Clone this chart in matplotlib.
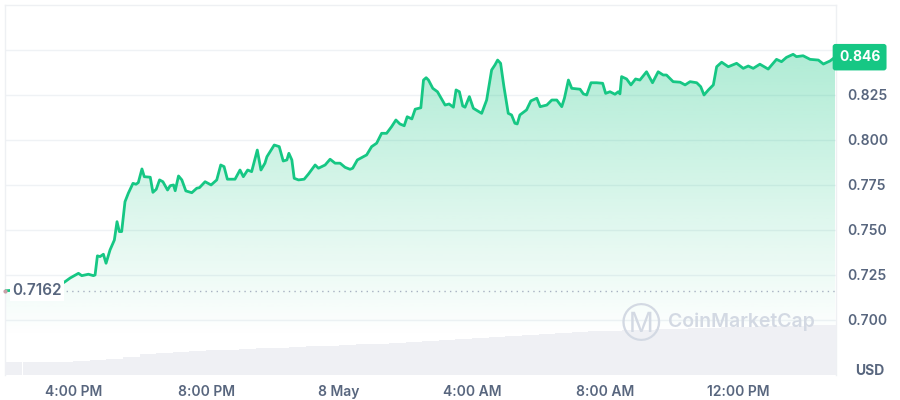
import matplotlib
matplotlib.use('Agg')
import matplotlib.pyplot as plt
import matplotlib.transforms as mtransforms
import numpy as np

# price readings, hours counted from 00:00 on 7 May
hours = [13.95, 14.86, 15.70, 15.76, 15.91, 16.16, 16.26, 16.46, 16.61, 16.66,
         16.73, 16.81, 16.91, 16.99, 17.11, 17.24, 17.32, 17.39, 17.46, 17.56,
         17.66, 17.80, 17.89, 17.96, 18.07, 18.14, 18.32, 18.40, 18.50, 18.60,
         18.70, 18.84, 18.92, 19.02, 19.07, 19.17, 19.27, 19.39, 19.57, 19.72,
         19.80, 19.97, 20.15, 20.32, 20.44, 20.54, 20.64, 20.87, 21.02, 21.12,
         21.25, 21.37, 21.54, 21.65, 21.77, 21.83, 22.05, 22.20, 22.32, 22.43,
         22.49, 22.58, 22.65, 22.78, 22.95, 23.08, 23.28, 23.38, 23.58, 23.73,
         23.88, 24.03, 24.18, 24.33, 24.41, 24.55, 24.73, 24.83, 24.98, 25.13,
         25.28, 25.43, 25.58, 25.71, 25.83, 25.96, 26.05, 26.19, 26.29, 26.46,
         26.54, 26.62, 26.69, 26.82, 26.96, 27.19, 27.31, 27.44, 27.52, 27.62,
         27.72, 27.79, 27.92, 28.04, 28.29, 28.44, 28.59, 28.69, 28.77, 28.86,
         28.96, 29.09, 29.19, 29.29, 29.36, 29.44, 29.64, 29.77, 29.95, 30.05,
         30.25, 30.40, 30.55, 30.70, 30.78, 30.90, 31.00, 31.25, 31.35, 31.45,
         31.58, 31.75, 31.93, 32.02, 32.15, 32.30, 32.40, 32.45, 32.50, 32.65,
         32.78, 32.92, 33.05, 33.25, 33.43, 33.60, 33.75, 33.85, 34.05, 34.26,
         34.41, 34.56, 34.76, 34.88, 34.98, 35.11, 35.26, 35.36, 35.51, 35.71,
         35.96, 36.16, 36.31, 36.46, 36.66, 36.91, 37.16, 37.31, 37.46, 37.66,
         37.76, 37.96, 38.17, 38.42, 38.57, 38.77, 38.92]
price = [0.7162, 0.7172, 0.7206, 0.7213, 0.7233, 0.7259, 0.7246, 0.7254, 0.7246, 0.7250,
         0.7356, 0.7352, 0.7365, 0.7315, 0.7389, 0.7444, 0.7546, 0.7491, 0.7491, 0.7657,
         0.7704, 0.7759, 0.7754, 0.7763, 0.7839, 0.7796, 0.7793, 0.7709, 0.7726, 0.7778,
         0.7768, 0.7722, 0.7746, 0.7750, 0.7718, 0.7800, 0.7778, 0.7717, 0.7707, 0.7732,
         0.7735, 0.7768, 0.7750, 0.7778, 0.7861, 0.7852, 0.7782, 0.7782, 0.7833, 0.7796,
         0.7833, 0.7824, 0.7944, 0.7833, 0.7871, 0.7907, 0.7972, 0.7963, 0.7883, 0.7889,
         0.7926, 0.7889, 0.7787, 0.7778, 0.7782, 0.7811, 0.7861, 0.7843, 0.7861, 0.7893,
         0.7871, 0.7871, 0.7848, 0.7837, 0.7843, 0.7889, 0.7907, 0.7917, 0.7963, 0.7982,
         0.8037, 0.8037, 0.8074, 0.8111, 0.8089, 0.8079, 0.8129, 0.8117, 0.8171, 0.8179,
         0.8333, 0.8346, 0.8333, 0.8287, 0.8268, 0.8194, 0.8200, 0.8182, 0.8278, 0.8268,
         0.8189, 0.8182, 0.8241, 0.8176, 0.8148, 0.8222, 0.8389, 0.8417, 0.8444, 0.8426,
         0.8296, 0.8148, 0.8139, 0.8093, 0.8089, 0.8139, 0.8167, 0.8217, 0.8232, 0.8185,
         0.8194, 0.8222, 0.8222, 0.8185, 0.8232, 0.8333, 0.8287, 0.8282, 0.8256, 0.8250,
         0.8318, 0.8318, 0.8315, 0.8259, 0.8268, 0.8254, 0.8268, 0.8256, 0.8352, 0.8339,
         0.8306, 0.8339, 0.8333, 0.8379, 0.8318, 0.8379, 0.8361, 0.8361, 0.8324, 0.8321,
         0.8306, 0.8324, 0.8318, 0.8296, 0.8250, 0.8278, 0.8306, 0.8407, 0.8432, 0.8407,
         0.8426, 0.8398, 0.8411, 0.8398, 0.8421, 0.8394, 0.8448, 0.8435, 0.8459, 0.8476,
         0.8463, 0.8468, 0.8448, 0.8444, 0.8422, 0.8439, 0.8460]

open_price = 0.7162
last_price = 0.846

# volume bars (relative heights), one per half hour, left edges
vol_hours = [13.95, 14.5, 15.0, 15.5, 16.0, 16.5, 17.0, 17.5, 18.0, 18.5,
             19.0, 19.5, 20.0, 20.5, 21.0, 21.5, 22.0, 22.5, 23.0, 23.5,
             24.0, 24.5, 25.0, 25.5, 26.0, 26.5, 27.0, 27.5, 28.0, 28.5,
             29.0, 29.5, 30.0, 30.5, 31.0, 31.5, 32.0, 32.5, 33.0, 33.5,
             34.0, 34.5, 35.0, 35.5, 36.0, 36.5, 37.0, 37.5, 38.0, 38.5]
volume = [13, 13, 13, 13, 14, 15, 16, 18, 21, 22,
          23, 24, 25, 25, 26, 27, 27, 28, 29, 29,
          30, 31, 31, 32, 33, 34, 35, 36, 37, 38,
          39, 40, 41, 42, 43, 44, 44, 45, 45, 46,
          46, 47, 47, 48, 48, 49, 49, 49, 50, 50]

tick_hours = [16, 20, 24, 28, 32, 36]
tick_labels = ['4:00 PM', '8:00 PM', '8 May', '4:00 AM', '8:00 AM', '12:00 PM']
price_ticks = [0.700, 0.725, 0.750, 0.775, 0.800, 0.825, 0.850]

GREEN = '#16c784'
GREY_TEXT = '#58667e'
GRID = '#eff2f5'

plt.rcParams['font.family'] = ['Inter', 'DejaVu Sans']

fig = plt.figure(figsize=(9, 4), dpi=100)
ax = fig.add_axes([5/900, 25/400, 831/900, 370/400])

x_min, x_max = 13.95, 38.95
y_min, y_max = 0.6694, 0.875
ax.set_xlim(x_min, x_max)
ax.set_ylim(y_min, y_max)

# gradient fill under the price line
fill = ax.fill_between(hours, price, y_min, color='none')
grad = np.linspace(0.0, 1.0, 256).reshape(-1, 1)
cols = np.zeros((256, 1, 4))
cols[:, 0, :3] = matplotlib.colors.to_rgb(GREEN)
cols[:, 0, 3] = np.clip((grad[:, 0] - 0.12) / 0.88, 0, 1) * 0.34
img = ax.imshow(cols, extent=[x_min, x_max, y_min, 0.848], origin='lower',
                aspect='auto', zorder=1, interpolation='bilinear')
img.set_clip_path(fill.get_paths()[0], transform=ax.transData)

ax.plot(hours, price, color=GREEN, lw=2.0, zorder=3, solid_joinstyle='round')

# opening price reference
ax.axhline(open_price, color='#a7b1c2', lw=1, ls=(0, (1, 3)), zorder=2)
ax.plot([hours[0]], [open_price], marker='o', ms=2, color='#c9a0a8', zorder=4, clip_on=False)
ax.text(14.18, open_price, '0.7162', color=GREY_TEXT, fontsize=11, fontweight='semibold',
        va='center', ha='left', zorder=5,
        bbox=dict(boxstyle='square,pad=0.15', fc='white', ec='none'))

ax.set_xticks(tick_hours)
ax.set_xticklabels(tick_labels)
ax.grid(axis='y', color=GRID, lw=1)
ax.grid(axis='x', visible=False)
ax.set_axisbelow(True)
for side in ['left', 'top', 'right']:
    ax.spines[side].set_color('#eef0f3')
    ax.spines[side].set_linewidth(1)
ax.spines['bottom'].set_visible(False)

# volume on its own scale
ax_v = ax.twinx()
ax_v.set_ylim(0, 370)
ax_v.bar(vol_hours, volume, width=0.5, align='edge', color='#eff0f4', lw=0)
ax_v.set_yticks([])
for side in ax_v.spines:
    ax_v.spines[side].set_visible(False)

# price labels on the right (twinx moves them left, so set them after)
ax.yaxis.tick_right()
ax.set_yticks(price_ticks)
ax.set_yticklabels(['%.3f' % t for t in price_ticks[:-1]] + [''])
ax.tick_params(axis='both', length=0, colors=GREY_TEXT, labelsize=10)
ax.tick_params(axis='y', pad=8)
ax.tick_params(axis='x', pad=7)
for lab in ax.get_xticklabels() + ax.get_yticklabels():
    lab.set_fontweight('semibold')

# last price badge
trans = mtransforms.blended_transform_factory(ax.transAxes, ax.transData)
ax_v.text(1.0035, last_price, '0.846', transform=trans, color='white', fontsize=10,
          fontweight='bold', va='center', ha='left', zorder=6, clip_on=False,
          bbox=dict(boxstyle='round,pad=0.45,rounding_size=0.2', fc=GREEN, ec='none'))

# watermark and currency
fig.text(641/900, 1 - 322/400, '\u24c2', color='#d3d9e3', fontsize=20, ha='center', va='center')
fig.text(668/900, 1 - 322/400, 'CoinMarketCap', color='#d3d9e3', fontsize=14,
         fontweight='semibold', ha='left', va='center')
fig.text(870/900, 1 - 371/400, 'USD', color=GREY_TEXT, fontsize=10, fontweight='bold',
         ha='center', va='center')

fig.savefig('out.png', dpi=100)
